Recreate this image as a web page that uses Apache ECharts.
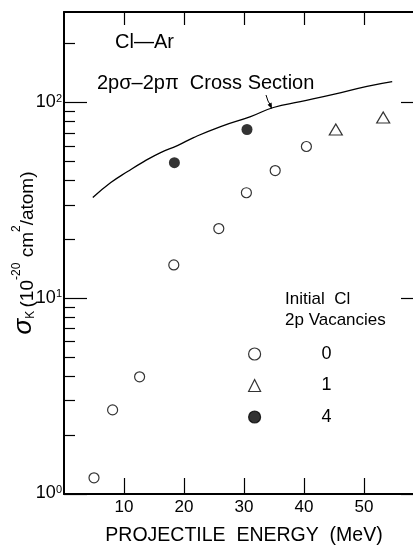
<!DOCTYPE html>
<html>
<head>
<meta charset="utf-8">
<script src="https://cdn.jsdelivr.net/npm/echarts@6/dist/echarts.min.js"></script>
<style>html,body{margin:0;padding:0;background:#fff;}#c{width:413px;height:546px;}</style>
</head>
<body>
<div id="c"></div>
<script>
// ---- data ----
var curveEnergy = [4.8, 7.8, 10.6, 13.3, 16.1, 18.9, 21.6, 26.1, 31.1, 34.9, 39.4, 44.9, 50.5, 54.7];
var curveSigma  = [32.7, 39.0, 44.4, 49.9, 55.5, 60.2, 66.2, 75.4, 84.8, 94.3, 101, 110, 121, 128];

var vac0Energy = [5.0, 8.1, 12.6, 18.3, 25.8, 30.4, 35.2, 40.4];
var vac0Sigma  = [1.21, 2.69, 3.97, 14.8, 22.7, 34.6, 44.9, 59.6];

var vac1Energy = [45.3, 53.2];
var vac1Sigma  = [72.8, 83.8];

var vac4Energy = [18.4, 30.5];
var vac4Sigma  = [49.3, 72.8];

var xTickLabels = [10, 20, 30, 40, 50];
var yMajorTicks = [1, 10, 100];
var yMinorTicks = [2,3,4,5,6,7,8,9,20,30,40,50,60,70,80,90,200];
var seriesNames = ['0', '1', '4'];

function zip(a, b) { return a.map(function (v, i) { return [v, b[i]]; }); }

var FONT = 'Liberation Sans';
var chart = echarts.init(document.getElementById('c'), null, {renderer: 'canvas'});

function logAxis(pos, ticks, len, showLine, showLabel) {
  return {
    type: 'log', position: pos, min: 1, max: 290, logBase: 10,
    axisLine: {show: showLine, lineStyle: {color: '#000', width: 2}},
    axisTick: {show: true, inside: true, length: len, customValues: ticks, lineStyle: {color: '#000', width: 1.2}},
    axisLabel: {
      show: showLabel, customValues: yMajorTicks, margin: 2,
      padding: [0, 0, 1, 0],
      formatter: function (v) { return '{b|10}{s|' + Math.round(Math.log10(v)) + '}'; },
      rich: {
        b: {fontSize: 18, fontFamily: FONT, color: '#000', lineHeight: 18, verticalAlign: 'bottom'},
        s: {fontSize: 11, fontFamily: FONT, color: '#000', lineHeight: 11, verticalAlign: 'top', padding: [0, 0, 12, 0]}
      }
    },
    splitLine: {show: false}
  };
}

var yAxes = [
  logAxis('left', yMajorTicks, 23, true, true),
  logAxis('left', yMinorTicks, 11, false, false),
  logAxis('right', yMajorTicks, 23, true, false),
  logAxis('right', yMinorTicks, 11, false, false)
];
yAxes[0].name = '{sg|σ}{k|K} {t|(10}{u|-20}{t| cm}{u|2}{t|/atom)}';
yAxes[0].nameLocation = 'middle';
yAxes[0].nameGap = 27;
yAxes[0].nameMoveOverlap = false;
yAxes[0].nameTextStyle = {
  rich: {
    sg: {fontSize: 26, fontFamily: FONT, fontStyle: 'italic', color: '#000', lineHeight: 26, verticalAlign: 'bottom'},
    k: {fontSize: 12, fontFamily: FONT, color: '#000', lineHeight: 12, verticalAlign: 'bottom'},
    t: {fontSize: 19, fontFamily: FONT, color: '#000', lineHeight: 20, verticalAlign: 'bottom'},
    u: {fontSize: 12, fontFamily: FONT, color: '#000', lineHeight: 12, verticalAlign: 'top', padding: [0, 0, 12, 0]}
  }
};

var option = {
  animation: false,
  backgroundColor: '#fff',
  grid: {left: 64, right: -11, top: 12, bottom: 52, containLabel: false, outerBoundsMode: 'none'},
  xAxis: [
    {
      type: 'value', position: 'bottom', min: 0, max: 60, interval: 10,
      name: 'PROJECTILE  ENERGY  (MeV)', nameLocation: 'middle', nameGap: 32, nameMoveOverlap: false,
      nameTextStyle: {fontSize: 19.5, fontFamily: FONT, color: '#000'},
      axisLine: {lineStyle: {color: '#000', width: 2}},
      axisTick: {inside: true, length: 16, customValues: xTickLabels, lineStyle: {color: '#000', width: 1.2}},
      axisLabel: {customValues: xTickLabels, margin: 5, fontSize: 17, fontFamily: FONT, color: '#000'},
      splitLine: {show: false}
    },
    {
      type: 'value', position: 'top', min: 0, max: 60, interval: 10,
      axisLine: {lineStyle: {color: '#000', width: 2}},
      axisTick: {inside: true, length: 13, customValues: xTickLabels, lineStyle: {color: '#000', width: 1.2}},
      axisLabel: {show: false},
      splitLine: {show: false}
    }
  ],
  yAxis: yAxes,
  legend: {
    data: seriesNames, orient: 'vertical', left: 243, top: 340,
    itemWidth: 12, itemHeight: 12, itemGap: 13.5, selectedMode: false,
    itemStyle: {borderWidth: 1.2},
    textStyle: {fontSize: 18, fontFamily: FONT, color: '#000', padding: [0, 0, 0, 56]}
  },
  graphic: [
    {type: 'text', x: 115, y: 42, style: {text: 'Cl—Ar', font: '20px "Liberation Sans"', fill: '#000', verticalAlign: 'middle'}},
    {type: 'text', x: 97, y: 83, style: {text: '2pσ–2pπ  Cross Section', font: '20px "Liberation Sans"', fill: '#000', verticalAlign: 'middle'}},
    {type: 'text', x: 285, y: 299, style: {text: 'Initial  Cl', font: '17px "Liberation Sans"', fill: '#000', verticalAlign: 'middle'}},
    {type: 'text', x: 285, y: 320, style: {text: '2p Vacancies', font: '17px "Liberation Sans"', fill: '#000', verticalAlign: 'middle'}},
    {type: 'polyline', shape: {points: [[266, 95], [268, 101], [271, 106]]}, style: {stroke: '#000', lineWidth: 1, fill: null}},
    {type: 'polygon', shape: {points: [[272, 109], [271.6, 102.5], [267.6, 104.7]]}, style: {fill: '#000'}}
  ],
  series: [
    {
      type: 'line', name: 'curve', data: zip(curveEnergy, curveSigma), smooth: 0.5,
      showSymbol: false, symbol: 'none', lineStyle: {color: '#000', width: 1.3}, silent: true
    },
    {
      type: 'scatter', name: '0', data: zip(vac0Energy, vac0Sigma), symbol: 'circle', symbolSize: 10,
      itemStyle: {color: '#fff', borderColor: '#000', borderWidth: 1.2}
    },
    {
      type: 'scatter', name: '1', data: zip(vac1Energy, vac1Sigma), symbol: 'triangle', symbolSize: [13, 11],
      itemStyle: {color: '#fff', borderColor: '#000', borderWidth: 1.2}
    },
    {
      type: 'scatter', name: '4', data: zip(vac4Energy, vac4Sigma), symbol: 'circle', symbolSize: 11,
      itemStyle: {color: '#000', borderColor: '#000', borderWidth: 0}
    }
  ]
};
chart.setOption(option);
</script>
</body>
</html>
